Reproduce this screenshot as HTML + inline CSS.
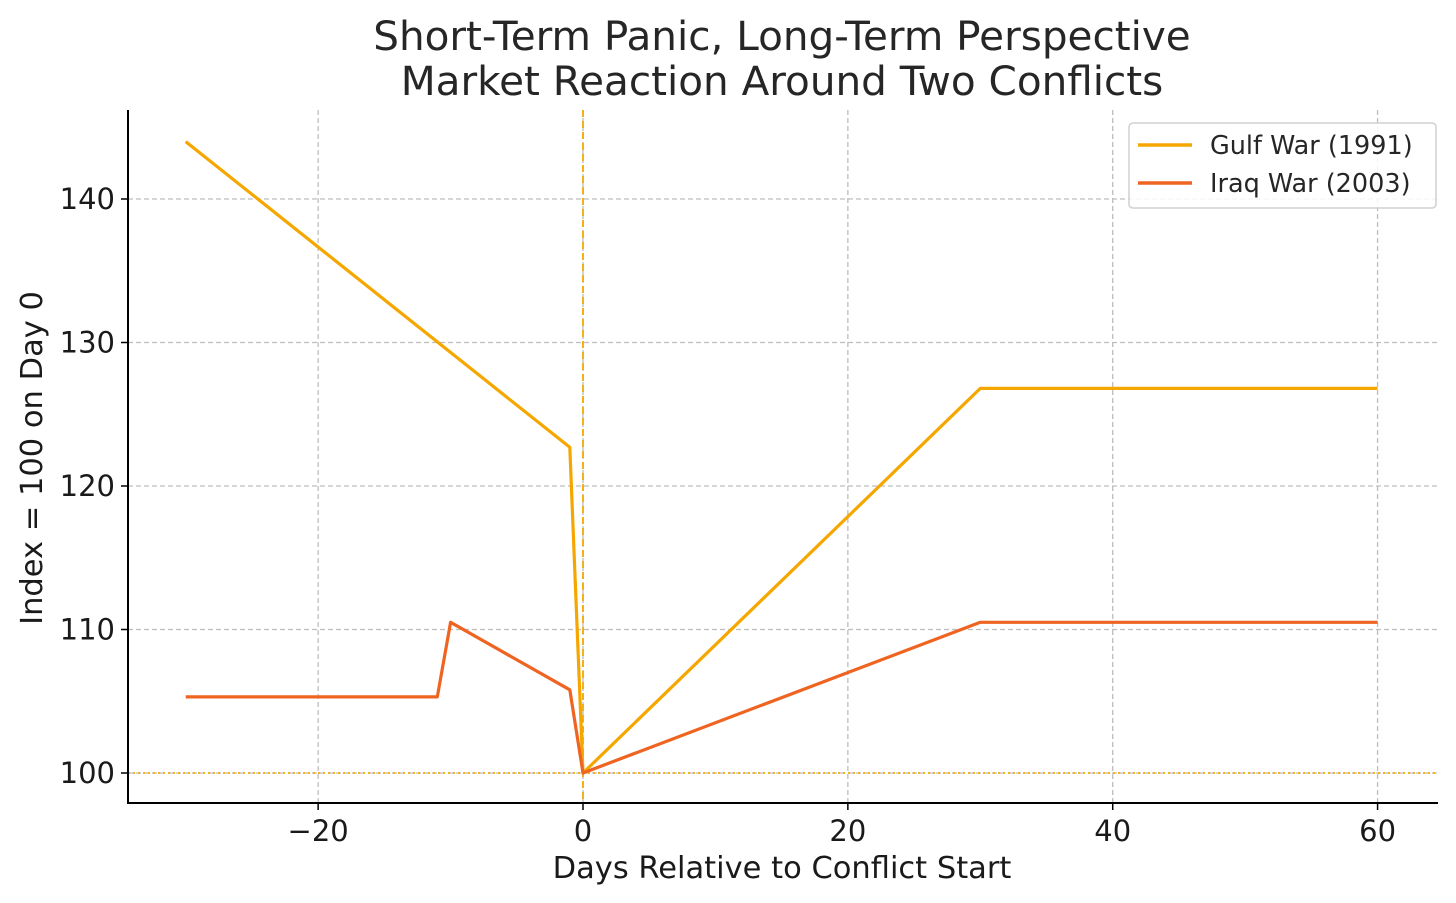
<!DOCTYPE html>
<html><head><meta charset="utf-8"><style>
html,body{margin:0;padding:0;background:#fff;}
svg{display:block;font-family:"DejaVu Sans","Liberation Sans",sans-serif;}
</style></head><body>
<svg id="chart" width="1456" height="903" viewBox="0 0 1456 903">
<text x="782" y="50" font-size="40.5" fill="#262626" text-anchor="middle">Short-Term Panic, Long-Term Perspective</text>
<text x="782" y="95" font-size="40.5" fill="#262626" text-anchor="middle">Market Reaction Around Two Conflicts</text>
<g id="grid"></g><g id="refs"></g><g id="series"></g><g id="axes"></g>
<text x="782" y="878" font-size="30.5" fill="#1a1a1a" text-anchor="middle">Days Relative to Conflict Start</text>
<text transform="translate(42,458) rotate(-90)" font-size="30.5" fill="#1a1a1a" text-anchor="middle">Index = 100 on Day 0</text>
<g>
<rect x="1129" y="123" width="307" height="85" rx="4" fill="#fff" fill-opacity="0.85" stroke="#d0d0d0" stroke-width="1.5"/>
<line x1="1138" y1="145" x2="1192" y2="145" stroke="#F5A700" stroke-width="3.5"/>
<text x="1210" y="154" font-size="25.5" fill="#262626">Gulf War (1991)</text>
<line x1="1138" y1="183" x2="1192" y2="183" stroke="#EE6420" stroke-width="3.5"/>
<text x="1210" y="192" font-size="25.5" fill="#262626">Iraq War (2003)</text>
</g>
</svg>
<script>
const xTicks=[-20,0,20,40,60];
const yTicks=[100,110,120,130,140];
const gulfDays=[-30,-1,0,30,60];
const gulfValues=[144,122.7,100,126.8,126.8];
const iraqDays=[-30,-11,-10,-1,0,30,60];
const iraqValues=[105.3,105.3,110.5,105.8,100,110.5,110.5];
const NS='http://www.w3.org/2000/svg';
const L=128,R=1438,T=110,B=803;
function sx(d){return 583+(d-0)*13.243;}
function sy(v){return 773-(v-100)*14.35;}
function mk(tag,attrs,parent){const e=document.createElementNS(NS,tag);for(const k in attrs)e.setAttribute(k,attrs[k]);parent.appendChild(e);return e;}
const grid=document.getElementById('grid'),axes=document.getElementById('axes'),refs=document.getElementById('refs'),ser=document.getElementById('series');
xTicks.forEach(t=>{const x=sx(t);
const g=mk('line',{x1:x,x2:x,y1:T,y2:B,stroke:'#bdbdbd','stroke-width':1.3,'stroke-dasharray':'5,3'},grid);


const tk=mk('line',{x1:x,x2:x,y1:B,y2:B+7,stroke:'#000','stroke-width':1.5},axes);


const tx=mk('text',{x:x,y:B+38,'font-size':29,'text-anchor':'middle',fill:'#1a1a1a'},axes);
tx.textContent=t<0?'\u2212'+Math.abs(t):String(t);

});
yTicks.forEach(t=>{const y=sy(t);
const g=mk('line',{x1:L,x2:R,y1:y,y2:y,stroke:'#bdbdbd','stroke-width':1.3,'stroke-dasharray':'5,3'},grid);


const tk=mk('line',{x1:L-7,x2:L,y1:y,y2:y,stroke:'#000','stroke-width':1.5},axes);


const tx=mk('text',{x:L-13,y:y+10,'font-size':29,'text-anchor':'end',fill:'#1a1a1a'},axes);
tx.textContent=String(t);

});
const ax=mk('path',{d:`M${L},${T}V${B}H${R}`,fill:'none',stroke:'#000','stroke-width':2},axes);


const vr=mk('line',{x1:sx(0),x2:sx(0),y1:T,y2:B,stroke:'#F5A700','stroke-width':1.8,'stroke-dasharray':'7,4'},refs);


const hr=mk('line',{x1:L,x2:R,y1:sy(100),y2:sy(100),stroke:'#F5A700','stroke-width':1.8,'stroke-dasharray':'2,3'},refs);


function line(days,vals,color,name){const d=days.map((x,i)=>(i?'L':'M')+sx(x).toFixed(1)+','+sy(vals[i]).toFixed(1)).join('');
const p=mk('path',{d:d,fill:'none',stroke:color,'stroke-width':3.2,'stroke-linejoin':'round'},ser);

}
line(gulfDays,gulfValues,'#F5A700','gulf-war-line');
line(iraqDays,iraqValues,'#EE6420','iraq-war-line');
</script>
</body></html>
